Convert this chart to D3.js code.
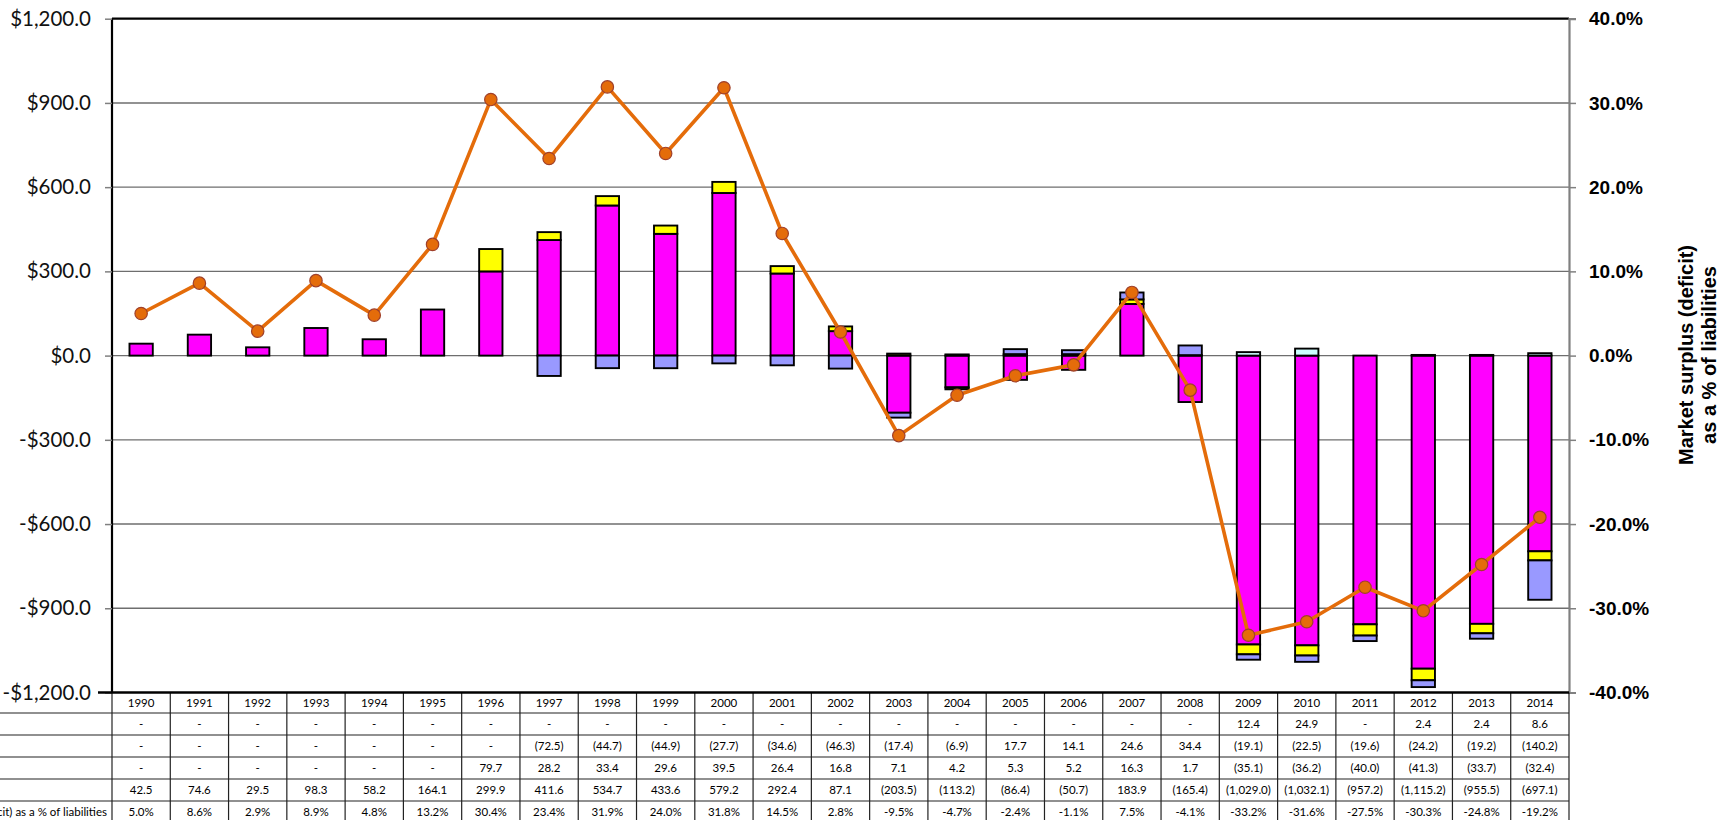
<!DOCTYPE html>
<html>
<head>
<meta charset="utf-8">
<script src="https://cdn.jsdelivr.net/npm/d3@7"></script>
<style>
  body { margin: 0; background: #fff; }
  svg { display: block; }
</style>
</head>
<body>
<div id="chart"></div>
<script>
// ##### data #####
var years = ['1990','1991','1992','1993','1994','1995','1996','1997','1998','1999','2000','2001','2002',
             '2003','2004','2005','2006','2007','2008','2009','2010','2011','2012','2013','2014'];
// table row 1 (light cyan)
var cyanVals = [null,null,null,null,null,null,null,null,null,null,null,null,null,
                null,null,null,null,null,null,12.4,24.9,null,2.4,2.4,8.6];
// table row 2 (blue)
var blueVals = [null,null,null,null,null,null,null,-72.5,-44.7,-44.9,-27.7,-34.6,-46.3,
                -17.4,-6.9,17.7,14.1,24.6,34.4,-19.1,-22.5,-19.6,-24.2,-19.2,-140.2];
// table row 3 (yellow)
var yellowVals = [null,null,null,null,null,null,79.7,28.2,33.4,29.6,39.5,26.4,16.8,
                  7.1,4.2,5.3,5.2,16.3,1.7,-35.1,-36.2,-40.0,-41.3,-33.7,-32.4];
// table row 4 (magenta)
var magentaVals = [42.5,74.6,29.5,98.3,58.2,164.1,299.9,411.6,534.7,433.6,579.2,292.4,87.1,
                   -203.5,-113.2,-86.4,-50.7,183.9,-165.4,-1029.0,-1032.1,-957.2,-1115.2,-955.5,-697.1];
// line: market surplus (deficit) as a % of liabilities
var pctVals = [5.0,8.6,2.9,8.9,4.8,13.2,30.4,23.4,31.9,24.0,31.8,14.5,2.8,
               -9.5,-4.7,-2.4,-1.1,7.5,-4.1,-33.2,-31.6,-27.5,-30.3,-24.8,-19.2];
var pctLabel = 'Market surplus (deficit) as a % of liabilities';

var leftTicks = [-1200,-900,-600,-300,0,300,600,900,1200];
var rightTicks = [-40,-30,-20,-10,0,10,20,30,40];

// stacking order from zero outward
var keys = ['magenta','yellow','blue','cyan'];
var colors = {magenta:'#FF00FF', yellow:'#FFFF00', blue:'#9999FF', cyan:'#CCFFFF'};

// ##### layout #####
var W = 1729, H = 820;
var plot = {left: 112, right: 1569, top: 18.7, bottom: 692.5};
var headH = 20.5, rowH = 22;

var svg = d3.select('#chart').append('svg')
	.attr('width', W)
	.attr('height', H);

var xCol = d3.scaleBand().domain(years).range([plot.left, plot.right]);
var x = d3.scaleBand().domain(years).range([plot.left, plot.right]).paddingInner(0.6).paddingOuter(0.3);
var yL = d3.scaleLinear().domain([-1200, 1200]).range([plot.bottom, plot.top]);
var yR = d3.scaleLinear().domain([-40, 40]).range([plot.bottom, plot.top]);

// gridlines
svg.append('g').selectAll('line')
	.data(leftTicks.slice(1, -1))
	.enter().append('line')
	.attr('x1', plot.left).attr('x2', plot.right)
	.attr('y1', function(d){ return yL(d); })
	.attr('y2', function(d){ return yL(d); })
	.attr('stroke', '#6e6e6e')
	.attr('stroke-width', 1.4);

// stacked bars
var rows = years.map(function(yr, i){
	return {year: yr, magenta: magentaVals[i] || 0, yellow: yellowVals[i] || 0,
	        blue: blueVals[i] || 0, cyan: cyanVals[i] || 0};
});
var stack = d3.stack().keys(keys).offset(d3.stackOffsetDiverging)(rows);

var layer = svg.append('g').selectAll('g')
	.data(stack)
	.enter().append('g')
	.attr('fill', function(d){ return colors[d.key]; });

layer.selectAll('rect')
	.data(function(d){ return d.filter(function(e){ return e[1] - e[0] !== 0; }); })
	.enter().append('rect')
	.attr('x', function(d){ return x(d.data.year); })
	.attr('width', x.bandwidth())
	.attr('y', function(d){ return yL(Math.max(d[0], d[1])); })
	.attr('height', function(d){ return Math.abs(yL(d[0]) - yL(d[1])); })
	.attr('stroke', '#000')
	.attr('stroke-width', 1.9);

// plot border
svg.append('line').attr('x1', plot.left).attr('x2', plot.right).attr('y1', plot.top).attr('y2', plot.top)
	.attr('stroke', '#000').attr('stroke-width', 2.2);
svg.append('line').attr('x1', plot.left).attr('x2', plot.left).attr('y1', plot.top).attr('y2', plot.bottom)
	.attr('stroke', '#000').attr('stroke-width', 2.2);

// left axis
var axL = svg.append('g')
	.attr('transform', 'translate(' + plot.left + ',0)')
	.call(d3.axisLeft(yL).tickValues(leftTicks).tickSize(7).tickPadding(14)
		.tickFormat(function(d){ return (d < 0 ? '-' : '') + '$' + d3.format(',.1f')(Math.abs(d)); }));
axL.select('.domain').remove();
axL.selectAll('.tick line').attr('stroke', '#808080').attr('stroke-width', 1.5);
axL.selectAll('.tick text')
	.style('font-family', 'Lato, "Open Sans", sans-serif')
	.style('font-size', '20.5px')
	.attr('fill', '#111');

// right axis
var axR = svg.append('g')
	.attr('transform', 'translate(' + plot.right + ',0)')
	.call(d3.axisRight(yR).tickValues(rightTicks).tickSize(7).tickPadding(13)
		.tickFormat(function(d){ return d.toFixed(1) + '%'; }));
axR.select('.domain').attr('stroke', '#808080').attr('stroke-width', 2.2);
axR.selectAll('.tick line').attr('stroke', '#808080').attr('stroke-width', 1.5);
axR.selectAll('.tick text')
	.style('font-family', '"Liberation Sans", Arial, sans-serif')
	.style('font-size', '19px')
	.style('font-weight', 'bold')
	.attr('fill', '#000');

// right axis title
var title = svg.append('text')
	.attr('transform', 'translate(1693,355) rotate(-90)')
	.attr('text-anchor', 'middle')
	.style('font-family', '"Liberation Sans", Arial, sans-serif')
	.style('font-size', '20px')
	.style('font-weight', 'bold');
title.append('tspan').attr('x', 0).attr('dy', 0).text('Market surplus (deficit)');
title.append('tspan').attr('x', 0).attr('dy', 23).text('as a % of liabilities');

// percent line
var line = d3.line()
	.x(function(d, i){ return x(years[i]) + x.bandwidth() / 2; })
	.y(function(d){ return yR(d); });

svg.append('path')
	.datum(pctVals)
	.attr('d', line)
	.attr('fill', 'none')
	.attr('stroke', '#E46C0A')
	.attr('stroke-width', 3.6)
	.attr('stroke-linejoin', 'round');

svg.append('g').selectAll('circle')
	.data(pctVals)
	.enter().append('circle')
	.attr('cx', function(d, i){ return x(years[i]) + x.bandwidth() / 2; })
	.attr('cy', function(d){ return yR(d); })
	.attr('r', 6.2)
	.attr('fill', '#E46C0A')
	.attr('stroke', '#A0402A')
	.attr('stroke-width', 1.2);

// ##### data table #####
function fmtVal(v){
	if (v === null) return '-';
	var s = d3.format(',.1f')(Math.abs(v));
	return v < 0 ? '(' + s + ')' : s;
}
var tableRows = [
	{label: '', values: cyanVals.map(fmtVal)},
	{label: '', values: blueVals.map(fmtVal)},
	{label: '', values: yellowVals.map(fmtVal)},
	{label: '', values: magentaVals.map(fmtVal)},
	{label: pctLabel, values: pctVals.map(function(v){ return v.toFixed(1) + '%'; })}
];

var tbl = svg.append('g')
	.style('font-family', 'Lato, "Open Sans", sans-serif')
	.style('font-size', '11.5px');

var rowTop = function(r){ return plot.bottom + headH + r * rowH; };

// horizontal rules
tbl.selectAll('line.h')
	.data(d3.range(tableRows.length + 1))
	.enter().append('line')
	.attr('x1', 0).attr('x2', plot.right)
	.attr('y1', function(r){ return rowTop(r); })
	.attr('y2', function(r){ return rowTop(r); })
	.attr('stroke', '#222').attr('stroke-width', 1.2);

// vertical rules
tbl.selectAll('line.v')
	.data(years.concat(['end']))
	.enter().append('line')
	.attr('x1', function(d){ return d === 'end' ? plot.right : xCol(d); })
	.attr('x2', function(d){ return d === 'end' ? plot.right : xCol(d); })
	.attr('y1', plot.bottom).attr('y2', H)
	.attr('stroke', '#222').attr('stroke-width', 1.2);

// year header
tbl.selectAll('text.yr')
	.data(years)
	.enter().append('text')
	.attr('x', function(d){ return xCol(d) + xCol.bandwidth() / 2; })
	.attr('y', plot.bottom + headH / 2)
	.attr('dy', '0.35em')
	.attr('text-anchor', 'middle')
	.text(function(d){ return d; });

var tr = tbl.selectAll('g.row')
	.data(tableRows)
	.enter().append('g')
	.attr('transform', function(d, r){ return 'translate(0,' + (rowTop(r) + rowH / 2) + ')'; });

tr.selectAll('text')
	.data(function(d){ return d.values; })
	.enter().append('text')
	.attr('x', function(d, i){ return xCol(years[i]) + xCol.bandwidth() / 2; })
	.attr('dy', '0.35em')
	.attr('text-anchor', 'middle')
	.text(function(d){ return d; });

// row label column sits mostly left of the picture, as in the original
tr.append('text')
	.attr('x', plot.left - 5)
	.attr('dy', '0.35em')
	.attr('text-anchor', 'end')
	.text(function(d){ return d.label; });

// thick rule between plot and table
svg.append('line').attr('x1', plot.left - 14).attr('x2', plot.right).attr('y1', plot.bottom).attr('y2', plot.bottom)
	.attr('stroke', '#000').attr('stroke-width', 2.6);
</script>
</body>
</html>
